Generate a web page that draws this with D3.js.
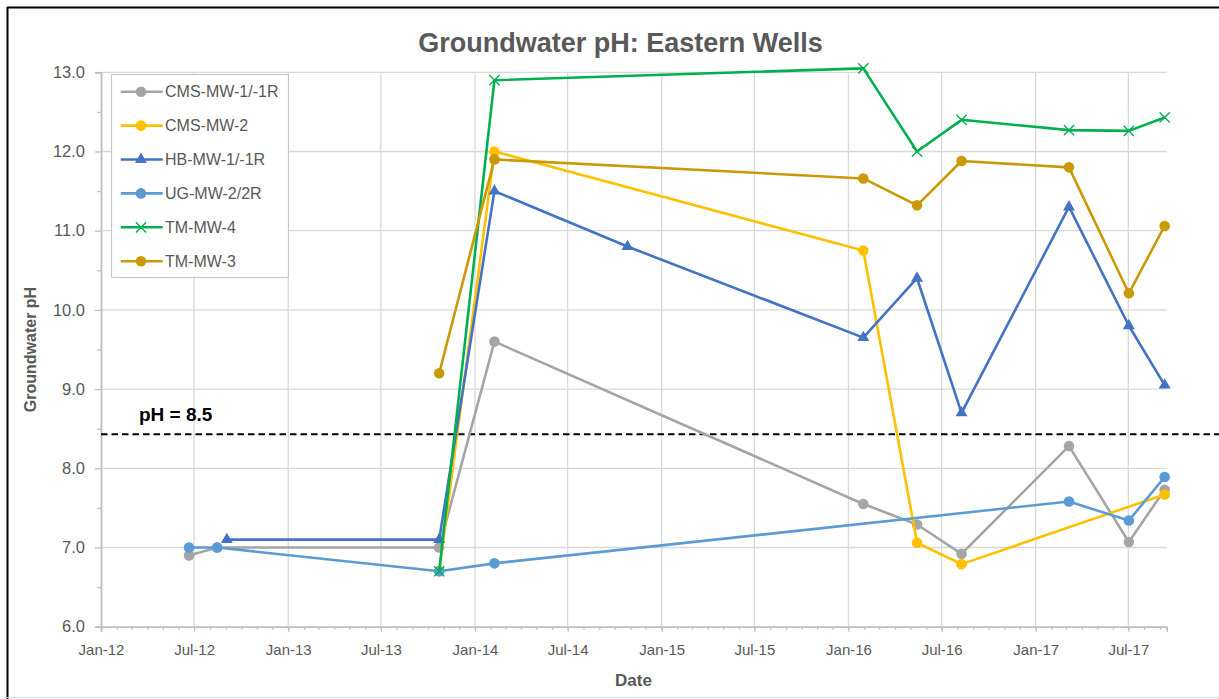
<!DOCTYPE html>
<html><head><meta charset="utf-8">
<script src="https://cdn.jsdelivr.net/npm/d3@7"></script>
<style>body{margin:0;background:#fff}svg{display:block}</style>
</head><body>
<script>
// ---------------- data ----------------
const sampleDates = ["2012-06-21","2012-08-15","2012-09-03","2013-10-23","2014-02-08","2014-10-26",
                     "2016-01-30","2016-05-14","2016-08-09","2017-03-07","2017-07-02","2017-09-10"];
const seriesNames = ["CMS-MW-1/-1R","CMS-MW-2","HB-MW-1/-1R","UG-MW-2/2R","TM-MW-4","TM-MW-3"];
const cmsMw1  = [6.9, 7.0, null, 7.0, 9.6, null, 7.55, 7.29, 6.92, 8.28, 7.07, 7.73];
const cmsMw2  = [null, null, null, 6.7, 12.0, null, 10.75, 7.06, 6.79, null, null, 7.67];
const hbMw1   = [null, null, 7.1, 7.1, 11.5, 10.8, 9.65, 10.4, 8.7, 11.3, 9.8, 9.05];
const ugMw2   = [7.0, 7.0, null, 6.7, 6.8, null, null, null, null, 7.58, 7.34, 7.89];
const tmMw4   = [null, null, null, 6.7, 12.9, null, 13.05, 12.0, 12.4, 12.27, 12.26, 12.43];
const tmMw3   = [null, null, null, 9.2, 11.9, null, 11.66, 11.32, 11.88, 11.8, 10.21, 11.06];
const seriesValues = [cmsMw1, cmsMw2, hbMw1, ugMw2, tmMw4, tmMw3];
const seriesColors = ["#A5A5A5","#FFC000","#4472C4","#5B9BD5","#00B050","#C99A06"];
const seriesMarkers = ["circle","circle","triangle","circle","x","circle"];
const yTickValues = [6, 7, 8, 9, 10, 11, 12, 13];
const xDomain = ["2012-01-01","2017-09-14"];
const refValue = 8.43;
const refLabel = "pH = 8.5";
const chartTitle = "Groundwater pH: Eastern Wells";
const xTitle = "Date";
const yTitle = "Groundwater pH";

// ---------------- layout ----------------
const W = 1219, H = 699;
const L = 101, R = 1166.7, T = 72.3, B = 626.7;
const FONT = "'Liberation Sans', Arial, sans-serif";
const TXT = "#595959";

const parse = d3.utcParse("%Y-%m-%d");
const x = d3.scaleUtc().domain(xDomain.map(parse)).range([L, R]);
const y = d3.scaleLinear().domain([6, 13]).range([B, T]);

const svg = d3.select("body").append("svg").attr("width", W).attr("height", H)
  .style("font-family", FONT);

// frame
svg.append("line").attr("x1", 7).attr("x2", W).attr("y1", 7.5).attr("y2", 7.5).attr("stroke", "#000").attr("stroke-width", 2);
svg.append("line").attr("x1", 7.5).attr("x2", 7.5).attr("y1", 7).attr("y2", H).attr("stroke", "#000").attr("stroke-width", 2);
svg.append("line").attr("x1", 7).attr("x2", W).attr("y1", 697.5).attr("y2", 697.5).attr("stroke", "#D9D9D9").attr("stroke-width", 1.2);

// gridlines
const majorX = d3.utcMonth.every(6).range(parse("2012-01-01"), x.domain()[1]);
const minorX = d3.utcMonth.every(1).range(parse("2012-01-01"), x.domain()[1]);
svg.append("g").selectAll("line").data(yTickValues.filter(v => v > 6)).join("line")
  .attr("x1", L).attr("x2", R).attr("y1", d => y(d)).attr("y2", d => y(d))
  .attr("stroke", "#D9D9D9").attr("stroke-width", 1.3);
svg.append("g").selectAll("line").data(majorX.slice(1)).join("line")
  .attr("x1", d => x(d)).attr("x2", d => x(d)).attr("y1", T).attr("y2", B)
  .attr("stroke", "#D9D9D9").attr("stroke-width", 1.3);

// axes
const xAxisMinor = d3.axisBottom(x).tickValues(minorX).tickSize(3).tickFormat("");
const xAxisMajor = d3.axisBottom(x).tickValues(majorX).tickSize(5).tickPadding(10)
  .tickFormat(d3.utcFormat("%b-%y"));
const yAxisMinor = d3.axisLeft(y).tickValues(d3.range(6.5, 13, 1)).tickSize(4).tickFormat("");
const yAxisMajor = d3.axisLeft(y).tickValues(yTickValues).tickSize(6).tickPadding(10)
  .tickFormat(d3.format(".1f"));

function styleAxis(g) {
  g.select(".domain").attr("stroke", "#BFBFBF").attr("stroke-width", 1.5);
  g.selectAll(".tick line").attr("stroke", "#BFBFBF").attr("stroke-width", 1.3);
  g.selectAll("text").attr("fill", TXT).style("font-family", FONT);
}
svg.append("g").attr("transform", `translate(0,${B})`).call(xAxisMinor).call(styleAxis);
svg.append("g").attr("transform", `translate(0,${B})`).call(xAxisMajor).call(styleAxis)
  .selectAll("text").attr("font-size", 15).attr("dy", "0.9em");
svg.append("g").attr("transform", `translate(${L},0)`).call(yAxisMinor).call(styleAxis);
svg.append("g").attr("transform", `translate(${L},0)`).call(yAxisMajor).call(styleAxis)
  .selectAll("text").attr("font-size", 16.5);

// titles
svg.append("text").attr("x", 620.5).attr("y", 52).attr("text-anchor", "middle")
  .attr("font-size", 27).attr("font-weight", "bold").attr("fill", TXT).text(chartTitle);
svg.append("text").attr("x", 633.5).attr("y", 686).attr("text-anchor", "middle")
  .attr("font-size", 17).attr("font-weight", "bold").attr("fill", TXT).text(xTitle);
svg.append("text").attr("transform", `translate(36,${(T + B) / 2}) rotate(-90)`).attr("text-anchor", "middle")
  .attr("font-size", 16).attr("font-weight", "bold").attr("fill", TXT).text(yTitle);

// reference line
svg.append("line").attr("x1", L).attr("x2", W).attr("y1", y(refValue)).attr("y2", y(refValue))
  .attr("stroke", "#000").attr("stroke-width", 2).attr("stroke-dasharray", "6.5,4");
svg.append("text").attr("x", 139).attr("y", y(refValue) - 13).attr("font-size", 19)
  .attr("font-weight", "bold").attr("fill", "#000").text(refLabel);

// markers
function drawMarker(g, type, color) {
  if (type === "circle") {
    g.append("circle").attr("r", 5.3).attr("fill", color);
  } else if (type === "triangle") {
    g.append("path").attr("d", d3.symbol(d3.symbolTriangle, 62)()).attr("fill", color);
  } else {
    g.append("path").attr("d", d3.symbol(d3.symbolX, 70)()).attr("fill", "none")
      .attr("stroke", color).attr("stroke-width", 1.4);
  }
}

// series
const line = d3.line().x(d => x(d.date)).y(d => y(d.value));
seriesNames.forEach((name, i) => {
  const pts = sampleDates.map((d, j) => ({date: parse(d), value: seriesValues[i][j]}))
    .filter(p => p.value !== null);
  const g = svg.append("g");
  g.append("path").datum(pts).attr("d", line).attr("fill", "none")
    .attr("stroke", seriesColors[i]).attr("stroke-width", 2.6).attr("stroke-linejoin", "round");
  pts.forEach(p => {
    const m = g.append("g").attr("transform", `translate(${x(p.date)},${y(p.value)})`);
    drawMarker(m, seriesMarkers[i], seriesColors[i]);
  });
});

// legend
const lg = svg.append("g");
lg.append("rect").attr("x", 111.5).attr("y", 74.5).attr("width", 177).attr("height", 203)
  .attr("fill", "#fff").attr("stroke", "#C8C8C8").attr("stroke-width", 1.2);
seriesNames.forEach((name, i) => {
  const yy = 91.7 + i * 33.9;
  lg.append("line").attr("x1", 120.7).attr("x2", 162.7).attr("y1", yy).attr("y2", yy)
    .attr("stroke", seriesColors[i]).attr("stroke-width", 2.6);
  const m = lg.append("g").attr("transform", `translate(141,${yy})`);
  drawMarker(m, seriesMarkers[i], seriesColors[i]);
  lg.append("text").attr("x", 165).attr("y", yy + 5.5).attr("font-size", 16)
    .attr("fill", TXT).text(name);
});
</script>
</body></html>
